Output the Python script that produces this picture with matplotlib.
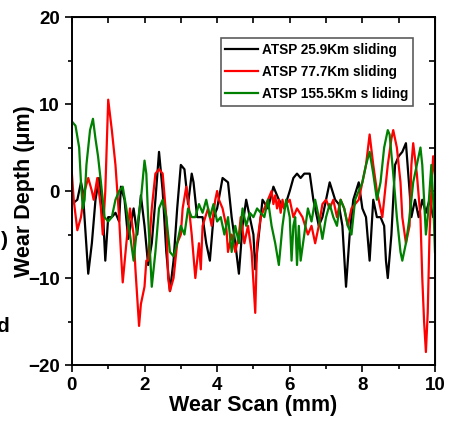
import matplotlib
matplotlib.use("Agg")
import matplotlib.pyplot as plt
from matplotlib.ticker import MultipleLocator

plt.rcParams['font.family'] = ['Liberation Sans', 'DejaVu Sans']
plt.rcParams['font.weight'] = 'bold'

# ATSP 25.9Km sliding (black)
x_black = [0.0, 0.15, 0.25, 0.3, 0.45, 0.55, 0.65, 0.75, 0.85, 0.92, 1.0, 1.1, 1.2, 1.3,
           1.35, 1.45, 1.55, 1.7, 1.8, 1.9, 2.0, 2.1, 2.2, 2.3, 2.4, 2.5, 2.6, 2.7, 2.8,
           2.9, 3.0, 3.1, 3.2, 3.3, 3.35, 3.45, 3.6, 3.7, 3.8, 3.9, 4.0, 4.15, 4.3, 4.4,
           4.5, 4.6, 4.7, 4.8, 4.9, 5.0, 5.05, 5.15, 5.25, 5.4, 5.55, 5.7, 5.85, 6.0,
           6.1, 6.2, 6.3, 6.4, 6.55, 6.65, 6.8, 6.9, 7.0, 7.1, 7.25, 7.35, 7.45, 7.55,
           7.65, 7.75, 7.9, 8.0, 8.1, 8.2, 8.3, 8.4, 8.5, 8.6, 8.65, 8.7, 8.8, 8.9, 9.0,
           9.1, 9.2, 9.3, 9.35, 9.45, 9.55, 9.65, 9.75, 9.85, 9.95, 10.0]
y_black = [-1.5, -1, 1, 0, -9.5, -6, -1, 1.5, -2, -8, -3, -3, -2.5, -3.5,
           0.5, -1, -5.5, -2, -5, -0.5, -4, -8.5, -6, -1, 4.5, 0, -7, -11.5, -8,
           -2, 3, 2.5, -1.5, 2, 1, -3, -3, -6, -8, -3, -2, 1.5, 1, -3,
           -6, -9.5, -4, -1, -3, -5, -9, -5, -1, -2, 0.5, -1, -2, 0,
           1.5, 2, 1.5, 2, 2, -1, -4, -3, -1, 1, -1, -1.5, -4, -11,
           -5, -1, 1, -2, -3, -8, -1, -3, -3, -4, -8, -10, -5, 3, 4,
           4.5, 5.5, 0, -3, -1, -3, -1, -2.5, -1, -3, -2]

# ATSP 77.7Km sliding (red)
x_red = [0.0, 0.05, 0.15, 0.25, 0.35, 0.45, 0.55, 0.6, 0.7, 0.8, 0.85, 0.92, 1.0, 1.1,
         1.2, 1.3, 1.35, 1.4, 1.5, 1.6, 1.7, 1.75, 1.85, 1.9, 2.0, 2.05, 2.1, 2.2, 2.3,
         2.4, 2.5, 2.6, 2.65, 2.7, 2.8, 2.9, 3.0, 3.05, 3.15, 3.2, 3.3, 3.4, 3.5, 3.55,
         3.6, 3.75, 3.85, 3.95, 4.0, 4.05, 4.15, 4.25, 4.3, 4.4, 4.5, 4.6, 4.65, 4.75,
         4.85, 4.95, 5.05, 5.1, 5.2, 5.3, 5.4, 5.5, 5.55, 5.6, 5.65, 5.7, 5.75, 5.8,
         5.85, 5.9, 6.0, 6.1, 6.2, 6.35, 6.5, 6.6, 6.7, 6.8, 6.9, 7.0, 7.1, 7.2, 7.3,
         7.4, 7.5, 7.6, 7.7, 7.8, 7.9, 8.0, 8.1, 8.2, 8.3, 8.4, 8.5, 8.55, 8.6, 8.7,
         8.8, 8.85, 8.95, 9.05, 9.1, 9.2, 9.3, 9.35, 9.4, 9.5, 9.6, 9.65, 9.7, 9.75,
         9.8, 9.85, 9.9, 9.95, 10.0]
y_red = [2, -1, -4.5, -3, 0, 1.5, 0, -1, 1.5, -2, -5, 0, 10.5, 7,
         3, -3, -7, -10.5, -6, -2, -5, -9, -15.5, -13, -11, -8, -8, -2, 2,
         2.5, 2, -3, -10, -11.5, -10, -6, -5, -2, 0.5, -1, -5, -10, -6, -9,
         -4, -2, -4, -1, 0, -1, -2, -4, -7, -5, -7, -5, -3, -6,
         -4, -7, -14, -6, -3, -2, -1, 0, -1.5, -0.5, -2, -1, -2.5, -1,
         -2, -1.5, -1, -3, -2, -3, -5, -4, -6, -4, -1.5, -1, -2, -1, -3,
         -1, -2, -4, -2, -1.5, -1, 1, 3, 6.5, 3, 0, -2, -3, -1, 3,
         6, 7, 5, 1, -3, -6, -4, 3, 5.5, 2, -3, -10, -15, -18.5,
         -14, -5, 0, 4, 2]

# ATSP 155.5Km sliding (green)
x_green = [0.0, 0.1, 0.2, 0.25, 0.3, 0.35, 0.4, 0.5, 0.58, 0.65, 0.72, 0.8, 0.9, 1.0,
           1.1, 1.2, 1.3, 1.4, 1.5, 1.6, 1.7, 1.8, 1.9, 2.0, 2.05, 2.1, 2.2, 2.3, 2.4,
           2.5, 2.6, 2.7, 2.8, 2.9, 3.0, 3.1, 3.2, 3.3, 3.4, 3.5, 3.6, 3.7, 3.8, 3.9,
           4.0, 4.1, 4.2, 4.3, 4.4, 4.5, 4.6, 4.7, 4.8, 4.9, 5.0, 5.1, 5.2, 5.3, 5.4,
           5.5, 5.6, 5.7, 5.8, 5.9, 6.0, 6.05, 6.1, 6.15, 6.2, 6.25, 6.3, 6.4, 6.5, 6.6,
           6.7, 6.8, 6.9, 7.0, 7.1, 7.2, 7.3, 7.4, 7.5, 7.6, 7.7, 7.8, 7.9, 8.0, 8.1,
           8.2, 8.3, 8.4, 8.5, 8.6, 8.7, 8.75, 8.85, 8.95, 9.05, 9.1, 9.2, 9.3, 9.4,
           9.5, 9.6, 9.65, 9.7, 9.75, 9.8, 9.85, 9.9, 9.95, 10.0]
y_green = [8, 7.5, 5, 1, -2, -1, 3, 7, 8.3, 6, 4, 1, -3, -3.5,
           -3, -1, 0, 0.5, -2, -5, -8, -4, -1, 3.5, 2, -3, -11, -7, -2,
           -1, -3, -7, -7.5, -6, -4, -5, -2, -3, -3, -1.5, -2.5, -1, -3, -1.5,
           -3.5, -3, -5, -3, -7, -4, -6, -2, -4, -2.5, -3, -2, -2.5, -3, -1,
           -4, -6, -8.5, -4, -1, -3, -8, -4, -3, -8.5, -4, -8, -5, -2, -3.5,
           -1, -3, -5.5, -3, -1.5, -3, -4, -1, -2, -4, -5, -1, 0, 1, 3,
           4.5, 2, -1, 1, 5, 7, 6.5, 2, -3, -7, -8, -6, -3, 1,
           3, 5, 3, -1, -5, -3, 0, 3, -1, -7]

series = [
    (x_black, y_black, 'black', 'ATSP 25.9Km sliding'),
    (x_red, y_red, '#ff0000', 'ATSP 77.7Km sliding'),
    (x_green, y_green, '#008000', 'ATSP 155.5Km s liding'),
]

fig = plt.figure(figsize=(4.55, 4.25), dpi=100)
ax = fig.add_axes([0.158, 0.141, 0.798, 0.819])

for xs, ys, c, lab in series:
    ax.plot(xs, ys, color=c, lw=1.6, label=lab)

ax.set_xlim(0, 10)
ax.set_ylim(-20, 20)
ax.xaxis.set_major_locator(MultipleLocator(2))
ax.xaxis.set_minor_locator(MultipleLocator(1))
ax.yaxis.set_major_locator(MultipleLocator(10))
ax.yaxis.set_minor_locator(MultipleLocator(5))
ax.tick_params(which='both', direction='out', width=1.2, labelsize=13.5)
ax.tick_params(which='major', length=5)
ax.tick_params(which='minor', length=3)
for s in ax.spines.values():
    s.set_linewidth(1.4)

# inward ticks on top and right
tx = ax.secondary_xaxis('top')
tx.xaxis.set_major_locator(MultipleLocator(1))
tx.tick_params(direction='in', length=4, width=1.2, labeltop=False)
ty = ax.secondary_yaxis('right')
ty.yaxis.set_major_locator(MultipleLocator(5))
ty.tick_params(direction='in', length=4, width=1.2, labelright=False)

ax.set_xlabel('Wear Scan (mm)', fontsize=15.5, fontweight='bold', labelpad=1)
ax.set_ylabel('Wear Depth (\u03bcm)', fontsize=15.5, fontweight='bold', labelpad=-5)

leg = ax.legend(loc='upper right', bbox_to_anchor=(0.94, 0.939), fontsize=9.8,
                frameon=True, fancybox=False, shadow=False, handlelength=2.4,
                handletextpad=0.3, borderpad=0.35, labelspacing=0.58, borderaxespad=0)
leg.get_frame().set_edgecolor('#333333')
leg.get_frame().set_linewidth(1.2)
for t in leg.get_texts():
    t.set_fontweight('bold')

# clipped text fragments at the left edge
fig.text(8 / 455, 1 - 240 / 425, ')', fontsize=15, fontweight='bold', ha='right', va='center')
fig.text(9 / 455, 1 - 326 / 425, 'd', fontsize=15, fontweight='bold', ha='right', va='center')

fig.savefig('out.png', dpi=100)
